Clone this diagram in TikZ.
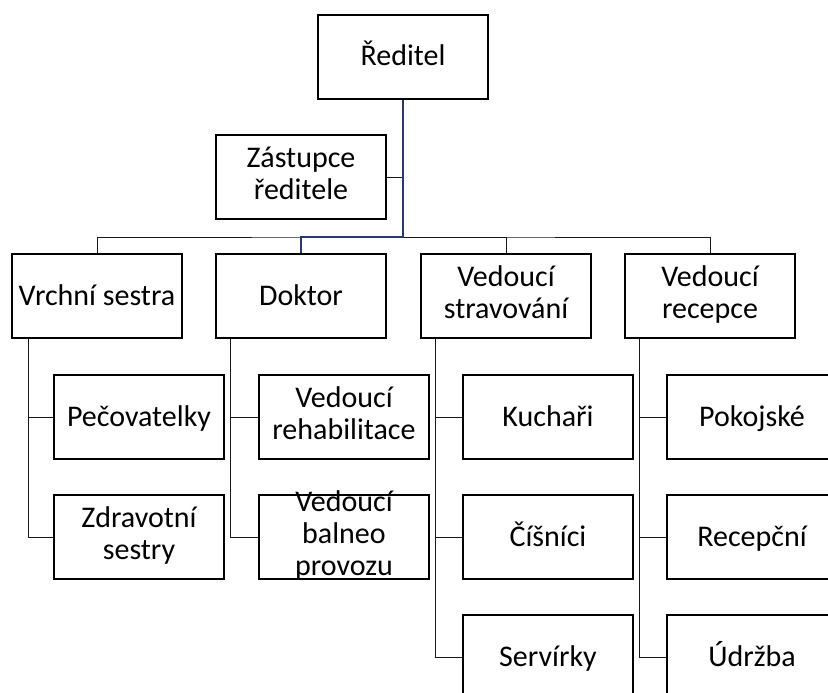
\documentclass[tikz,border=0pt]{standalone}
\usepackage{fontspec}
\setmainfont{Carlito}
\definecolor{linkblue}{RGB}{38,58,112}
\newcommand\boxstrut{\rule[-7.5pt]{0pt}{33pt}}
\begin{document}
\begin{tikzpicture}[x=1pt, y=-1pt, font=\fontsize{30}{32}\selectfont,
		execute at begin node=\boxstrut, execute at end node=\boxstrut,
		box/.style={draw, line width=2.2pt, minimum width=170pt, minimum height=84pt, inner sep=0pt, align=center},
		link/.style={draw=black!90, line width=1pt},
		mainlink/.style={draw=linkblue, line width=2pt}]
		\useasboundingbox (0,0) rectangle (828,693);
		\clip (0,0) rectangle (828,693);
		\node[box] (reditel) at (403,57) {Ředitel};
		\node[box] (zastupce) at (301,177) {Zástupce\\ředitele};
		\node[box] (sestra) at (97,296) {Vrchní sestra};
		\node[box] (doktor) at (301,296) {Doktor};
		\node[box] (strav) at (506,296) {Vedoucí\\stravování};
		\node[box] (recep) at (710,296) {Vedoucí\\recepce};
		\node[box] (pecov) at (139,417) {Pečovatelky};
		\node[box] (zdrav) at (139,537) {Zdravotní\\sestry};
		\node[box] (rehab) at (344,417) {Vedoucí\\rehabilitace};
		\node[box, label={[align=center]center:Vedoucí\\balneo\\provozu}] (balneo) at (344,537) {};
		\node[box] (kuchari) at (548,417) {Kuchaři};
		\node[box] (cisnici) at (548,537) {Číšníci};
		\node[box] (servirky) at (548,657) {Servírky};
		\node[box] (pokojske) at (752,417) {Pokojské};
		\node[box] (recepcni) at (752,537) {Recepční};
		\node[box] (udrzba) at (752,657) {Údržba};
		\coordinate (bus) at (403,237);
		\draw[link] (zastupce.east) -- (zastupce.east -| reditel.south);
		\draw[link] (sestra.north) |- (bus) -| (recep.north);
		\draw[link] (bus) -| (strav.north);
		\draw[mainlink] (reditel.south) -- (bus) -| (doktor.north);
		\draw[link] (sestra.south west) ++(18,0) |- (pecov.west);
		\draw[link] (sestra.south west) ++(18,0) |- (zdrav.west);
		\draw[link] (doktor.south west) ++(16,0) |- (rehab.west);
		\draw[link] (doktor.south west) ++(16,0) |- (balneo.west);
		\draw[link] (strav.south west) ++(16,0) |- (kuchari.west);
		\draw[link] (strav.south west) ++(16,0) |- (cisnici.west);
		\draw[link] (strav.south west) ++(16,0) |- (servirky.west);
		\draw[link] (recep.south west) ++(16,0) |- (pokojske.west);
		\draw[link] (recep.south west) ++(16,0) |- (recepcni.west);
		\draw[link] (recep.south west) ++(16,0) |- (udrzba.west);
	\end{tikzpicture}
\end{document}
